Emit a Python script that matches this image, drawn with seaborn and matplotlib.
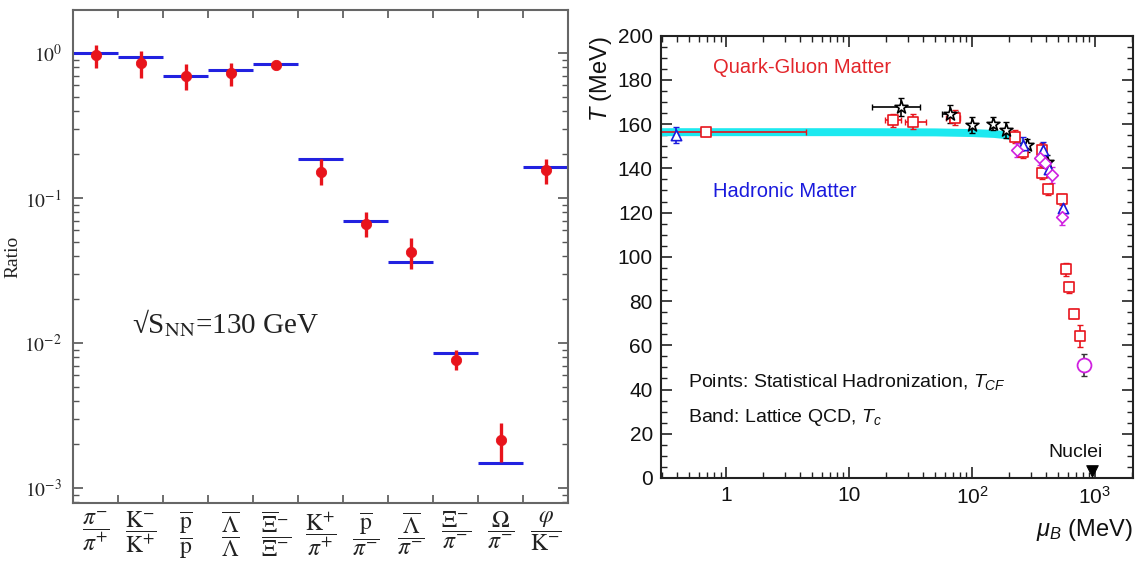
import numpy as np
import pandas as pd
import matplotlib
matplotlib.use("Agg")
import matplotlib.pyplot as plt
import seaborn as sns
from matplotlib.ticker import LogLocator, MultipleLocator, NullFormatter

# ---------------- data: left panel (particle ratios, sqrt(s_NN)=130 GeV) ----------------
cat_labels = [
    r'$\dfrac{\pi^{-}}{\pi^{+}}$',
    r'$\dfrac{\mathrm{K}^{-}}{\mathrm{K}^{+}}$',
    r'$\dfrac{\overline{\mathrm{p}}}{\mathrm{p}}$',
    r'$\dfrac{\overline{\Lambda}}{\Lambda}$',
    r'$\dfrac{\overline{\Xi}^{-}}{\Xi^{-}}$',
    r'$\dfrac{\mathrm{K}^{+}}{\pi^{+}}$',
    r'$\dfrac{\overline{\mathrm{p}}}{\pi^{-}}$',
    r'$\dfrac{\overline{\Lambda}}{\pi^{-}}$',
    r'$\dfrac{\Xi^{-}}{\pi^{-}}$',
    r'$\dfrac{\Omega}{\pi^{-}}$',
    r'$\dfrac{\varphi}{\mathrm{K}^{-}}$',
]
ratio_data = [0.97, 0.857, 0.694, 0.732, 0.826, 0.152, 0.0668, 0.0422, 0.0077, 0.00216, 0.156]
ratio_hi = [1.135, 1.04, 0.836, 0.857, 0.86, 0.185, 0.0805, 0.0529, 0.00892, 0.00281, 0.187]
ratio_lo = [0.79, 0.676, 0.556, 0.592, 0.795, 0.123, 0.0541, 0.0327, 0.00654, 0.00151, 0.125]
ratio_model = [1.01, 0.934, 0.70, 0.763, 0.836, 0.187, 0.0694, 0.0364, 0.00857, 0.00150, 0.163]
ytick_vals = [1e-3, 1e-2, 1e-1, 1]
ytick_labels = [r'$10^{-3}$', r'$10^{-2}$', r'$10^{-1}$', r'$10^{0}$']

# ---------------- data: right panel (QCD phase diagram) ----------------
band_mu = [0.296, 1, 10, 50, 100, 150, 190, 220, 250]
band_T_lo = [154.8, 154.8, 154.8, 154.7, 154.4, 154.0, 153.4, 152.2, 150.6]
band_T_hi = [158.4, 158.4, 158.4, 158.3, 158.0, 157.6, 157.0, 155.8, 154.2]

sq_mu = [0.69, 22.9, 33.0, 72.8, 224, 262, 370, 370, 418, 538, 585, 613, 675, 764]
sq_T = [156.3, 161.8, 161.1, 163.0, 154.3, 147.5, 148.3, 138.0, 130.5, 126.1, 94.3, 86.3, 74.3, 64.2]
sq_mu_lo = [0.1, 19.5, 28.5, 62, 224, 262, 370, 370, 418, 538, 585, 613, 675, 764]
sq_mu_hi = [4.5, 26.5, 42.7, 80, 224, 262, 370, 370, 418, 538, 585, 613, 675, 764]
sq_Terr = [1.5, 3, 3.5, 3.5, 3, 3, 3, 3, 2.5, 2.5, 3, 2.5, 2, 5]

star_mu = [26.3, 66.4, 100, 149, 189, 279, 406]
star_T = [167.9, 164.5, 159.6, 160.2, 157.3, 150.5, 143.0]
star_mu_lo = [15.3, 57, 100, 149, 189, 279, 406]
star_mu_hi = [37.8, 77, 100, 149, 189, 279, 406]
star_Terr = [4, 4, 3.5, 3, 3.5, 3, 3]

tri_mu = [0.39, 259, 377, 426, 548]
tri_T = [155.1, 150.5, 148.3, 139.6, 121.9]
tri_Terr = [3.7, 3.5, 3.5, 3.5, 4]

dia_mu = [232, 358, 393, 446, 538]
dia_T = [148.3, 144.5, 142.3, 137.0, 118.1]
dia_Terr = [3, 3, 3, 3.5, 3.5]

circ_mu = [823]
circ_T = [51.1]
circ_Terr = [5]

nuclei_mu = [950]
nuclei_T = [3.0]

# ---------------- style ----------------
sns.set_theme(style="ticks")
plt.rcParams['font.family'] = ['Liberation Sans', 'DejaVu Sans']
plt.rcParams['mathtext.fontset'] = 'custom'
plt.rcParams['mathtext.rm'] = 'Liberation Sans'
plt.rcParams['mathtext.it'] = 'Liberation Sans:italic'
plt.rcParams['mathtext.bf'] = 'Liberation Sans:bold'
plt.rcParams['mathtext.sf'] = 'Liberation Sans'

RED = '#e8141c'
BLUE = '#2222e0'

fig = plt.figure(figsize=(11.36, 5.62), dpi=100)
fig.patch.set_facecolor('white')

# ================= LEFT PANEL =================
axL = fig.add_axes([0.0643, 0.105, 0.4357, 0.877])
axL.set_facecolor('white')
pos = np.arange(len(cat_labels))
dfL = pd.DataFrame({'pos': pos, 'ratio': ratio_data})
r = np.array(ratio_data)
axL.hlines(ratio_model, pos - 0.5, pos + 0.5, colors=BLUE, lw=2.2, zorder=2)
axL.errorbar(pos, r, yerr=[r - np.array(ratio_lo), np.array(ratio_hi) - r],
             fmt='none', ecolor=RED, elinewidth=2.4, zorder=3)
sns.scatterplot(data=dfL, x='pos', y='ratio', color=RED, edgecolor=RED, s=55,
                zorder=4, ax=axL, legend=False)
axL.set_yscale('log')
axL.set_ylim(7.9e-4, 1.98)
axL.set_xlim(-0.5, len(cat_labels) - 0.5)
axL.set_xlabel('')
axL.set_ylabel('Ratio', family='Liberation Serif', fontsize=14, color='#222')
axL.yaxis.set_label_coords(-0.105, 0.5)

axL.set_xticks(pos, labels=cat_labels)
axL.set_xticks(np.arange(-0.5, len(cat_labels), 1), minor=True)
axL.tick_params(axis='x', which='major', length=0, pad=5, labelsize=17, labelcolor='#222')
axL.tick_params(axis='x', which='minor', length=6, width=1.2, direction='in',
                top=True, bottom=True, color='#555')
axL.set_yticks(ytick_vals, labels=ytick_labels)
axL.yaxis.set_minor_locator(LogLocator(base=10, subs=np.arange(2, 10)))
axL.yaxis.set_minor_formatter(NullFormatter())
axL.tick_params(axis='y', which='major', length=7, width=1.2, direction='in',
                left=True, right=True, labelsize=14, color='#555', labelcolor='#222', pad=8)
axL.tick_params(axis='y', which='minor', length=4, width=1.0, direction='in',
                left=True, right=True, color='#555')
for t in axL.get_xticklabels() + axL.get_yticklabels():
    t.set_math_fontfamily('stix')
for s in axL.spines.values():
    s.set_color('#666')
    s.set_linewidth(1.5)
tL = axL.text(0.119, 0.365, '\u221aS$_{\\mathrm{NN}}$=130 GeV', transform=axL.transAxes,
              fontsize=21, family='Liberation Serif', va='center', ha='left', color='#222')
tL.set_math_fontfamily('stix')

# ================= RIGHT PANEL =================
axR = fig.add_axes([0.582, 0.1495, 0.415, 0.787])
axR.set_facecolor('white')
axR.set_xscale('log')
axR.fill_between(band_mu, band_T_lo, band_T_hi, color='#1de9f0', lw=0, zorder=1)

def xerrs(mu, lo, hi):
    mu = np.array(mu, float)
    return [mu - np.array(lo, float), np.array(hi, float) - mu]

axR.errorbar(sq_mu, sq_T, xerr=xerrs(sq_mu, sq_mu_lo, sq_mu_hi), yerr=sq_Terr,
             fmt='none', ecolor=RED, elinewidth=1.2, capsize=2, zorder=2)
axR.errorbar(star_mu, star_T, xerr=xerrs(star_mu, star_mu_lo, star_mu_hi), yerr=star_Terr,
             fmt='none', ecolor='black', elinewidth=1.2, capsize=2, zorder=2)
axR.errorbar(tri_mu, tri_T, yerr=tri_Terr, fmt='none', ecolor='#1a1add',
             elinewidth=1.2, capsize=2, zorder=2)
axR.errorbar(dia_mu, dia_T, yerr=dia_Terr, fmt='none', ecolor='#d020e0',
             elinewidth=1.2, capsize=2, zorder=2)
axR.errorbar(circ_mu, circ_T, yerr=circ_Terr, fmt='none', ecolor='#333',
             elinewidth=1.2, capsize=2, zorder=2)

sns.scatterplot(x=sq_mu, y=sq_T, marker='s', s=55, facecolor='white', edgecolor=RED,
                linewidth=1.2, ax=axR, zorder=3, legend=False)
sns.scatterplot(x=star_mu, y=star_T, marker='*', s=95, facecolor='white', edgecolor='black',
                linewidth=1.2, ax=axR, zorder=4, legend=False)
sns.scatterplot(x=tri_mu, y=tri_T, marker='^', s=55, facecolor='white', edgecolor='#1a1add',
                linewidth=1.2, ax=axR, zorder=5, legend=False)
sns.scatterplot(x=dia_mu, y=dia_T, marker='D', s=35, facecolor='white', edgecolor='#d020e0',
                linewidth=1.2, ax=axR, zorder=5, legend=False)
sns.scatterplot(x=circ_mu, y=circ_T, marker='o', s=100, facecolor='white', edgecolor='#d020e0',
                linewidth=1.3, ax=axR, zorder=5, legend=False)
n_before = len(axR.collections)
sns.scatterplot(x=nuclei_mu, y=nuclei_T, marker='v', s=70, color='black', edgecolor='black',
                ax=axR, zorder=6, legend=False)
for c in axR.collections[n_before:]:
    c.set_clip_on(False)

axR.set_xlim(0.296, 2030)
axR.set_ylim(0, 200)

axR.set_xticks([1, 10, 100, 1000], labels=['1', '10', r'$10^2$', r'$10^3$'])
axR.xaxis.set_minor_locator(LogLocator(base=10, subs=np.arange(2, 10), numticks=20))
axR.xaxis.set_minor_formatter(NullFormatter())
axR.yaxis.set_major_locator(MultipleLocator(20))
axR.yaxis.set_minor_locator(MultipleLocator(5))
axR.tick_params(which='major', direction='in', length=8, width=1.2, top=True, right=True,
                labelsize=15, color='#222', labelcolor='#111', pad=6)
axR.tick_params(which='minor', direction='in', length=4, width=1.0, top=True, right=True,
                color='#222')
for s in axR.spines.values():
    s.set_color('#222')
    s.set_linewidth(1.5)

axR.set_ylabel(r'$T$ (MeV)', fontsize=17, loc='top', color='#111')
axR.yaxis.set_label_coords(-0.1, 1.0)
axR.set_xlabel(r'$\mu_{B}$ (MeV)', fontsize=17, loc='right', color='#111', labelpad=6)

axR.text(0.111, 0.927, 'Quark-Gluon Matter', transform=axR.transAxes, fontsize=14.5,
         color='#e3262b', va='center', ha='left')
axR.text(0.111, 0.647, 'Hadronic Matter', transform=axR.transAxes, fontsize=14.5,
         color='#1a1add', va='center', ha='left')
axR.text(0.056, 0.217, r'Points: Statistical Hadronization, $T_{CF}$', transform=axR.transAxes,
         fontsize=14, color='#111', va='center', ha='left')
axR.text(0.056, 0.136, r'Band: Lattice QCD, $T_{c}$', transform=axR.transAxes,
         fontsize=14, color='#111', va='center', ha='left')
axR.text(0.880, 0.057, 'Nuclei', transform=axR.transAxes, fontsize=14,
         color='#111', va='center', ha='center')

fig.savefig('out.png', dpi=100, facecolor='white')
